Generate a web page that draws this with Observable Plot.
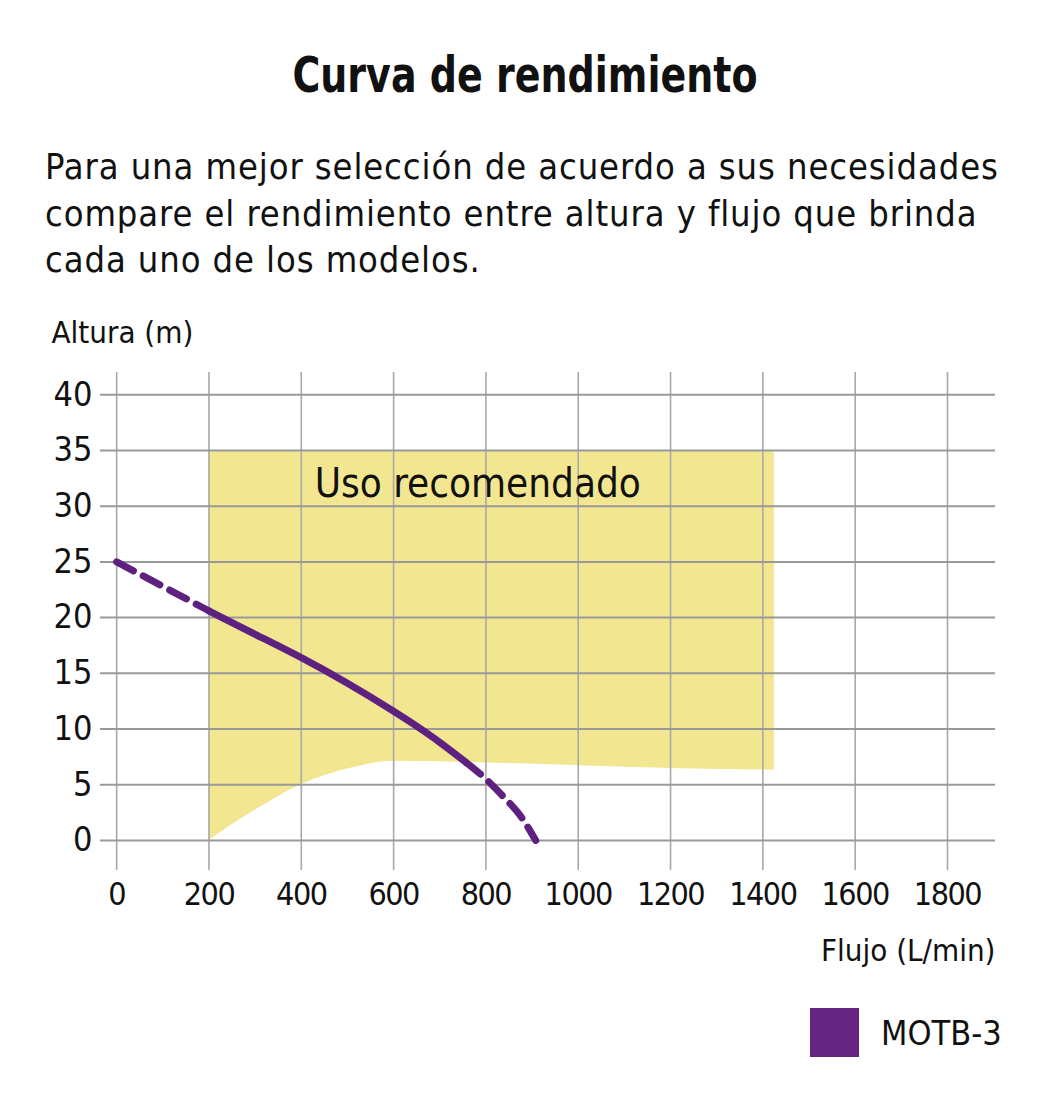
<!DOCTYPE html>
<html>
<head>
<meta charset="utf-8">
<script src="https://cdn.jsdelivr.net/npm/d3@7"></script>
<script src="https://cdn.jsdelivr.net/npm/@observablehq/plot@0.6"></script>
<style>
  html, body { margin: 0; padding: 0; background: #fff; }
  body { width: 1043px; height: 1108px; position: relative; overflow: hidden;
         font-family: "DejaVu Sans Condensed", sans-serif; color: #111; }
  #title { position: absolute; left: 0; width: 1050px; top: 50px; text-align: center;
           font-size: 50px; line-height: 50px; font-weight: bold; transform: scaleX(0.845); transform-origin: 525px 0; }
  #subtitle { position: absolute; left: 45px; top: 144px; font-size: 36px; line-height: 46.5px; letter-spacing: 0.9px; }
  #chart { position: absolute; left: 0; top: 290px; }
  #legend { position: absolute; left: 810px; top: 1008px; display: flex; align-items: center; }
  #legend .sw { width: 49px; height: 49px; background: #662483; }
  #legend .lb { margin-left: 22px; font-size: 34px; }
  #chart g[aria-label="x-axis tick label"] text { letter-spacing: -1.5px; }
</style>
</head>
<body>
<div id="title"></div>
<div id="subtitle"></div>
<div id="chart"></div>
<div id="legend"></div>
<script>
// ---- data ----
const titleText = "Curva de rendimiento";
const subtitleLines = [
  "Para una mejor selección de acuerdo a sus necesidades",
  "compare el rendimiento entre altura y flujo que brinda",
  "cada uno de los modelos."
];
const yLabel = "Altura (m)";
const xLabel = "Flujo (L/min)";
const xTicks = [0, 200, 400, 600, 800, 1000, 1200, 1400, 1600, 1800];
const yTicks = [0, 5, 10, 15, 20, 25, 30, 35, 40];

// Pump curve MOTB-3
const seriesName = "MOTB-3";
const pumpFlow = [0, 100, 200, 300, 400, 500, 600, 650, 700, 757, 800, 850, 880, 908];
const pumpHead = [25, 22.8, 20.6, 18.5, 16.4, 14.1, 11.6, 10.25, 8.8, 7.0, 5.5, 3.4, 1.9, 0];
const solidRange = [200, 757];

// Recommended-use zone
const zoneLabel = "Uso recomendado";
const zoneFlow = [200, 250, 300, 400, 500, 600, 800, 1000, 1200, 1425];
const zoneLow  = [0, 1.4, 2.7, 5.0, 6.4, 7.1, 6.95, 6.7, 6.45, 6.3];
const zoneHigh = 35;

// ---- build ----
document.getElementById("title").textContent = titleText;
document.getElementById("subtitle").innerHTML = subtitleLines.join("<br>");
document.getElementById("legend").innerHTML =
  `<div class="sw"></div><div class="lb">${seriesName}</div>`;

const pts = pumpFlow.map((x, i) => ({x, y: pumpHead[i]}));
const dashL = pts.filter(d => d.x <= solidRange[0]);
const solid = pts.filter(d => d.x >= solidRange[0] && d.x <= solidRange[1]);
const dashR = pts.filter(d => d.x >= solidRange[1]);
const zone = zoneFlow.map((x, i) => ({x, low: zoneLow[i], high: zoneHigh}));

const purple = "#5f2180";
const chart = Plot.plot({
  width: 1043,
  height: 700,
  marginLeft: 100,
  marginRight: 48,
  marginTop: 82,
  marginBottom: 120,
  style: {fontFamily: "'DejaVu Sans Condensed', sans-serif", fontSize: "33px", color: "#111", background: "transparent"},
  x: {domain: [-35, 1904]},
  y: {domain: [-2.7, 42]},
  marks: [
    Plot.areaY(zone, {x: "x", y1: "low", y2: "high", fill: "#f3e691", curve: "monotone-x"}),
    Plot.ruleX(xTicks, {stroke: "#a8a8a8", strokeWidth: 1.6}),
    Plot.ruleY(yTicks, {stroke: "#999", strokeWidth: 2}),
    Plot.axisX({ticks: xTicks, tickSize: 0, tickPadding: 12, tickFormat: d => String(d), label: null, fontSize: 32}),
    Plot.axisY({ticks: yTicks, tickSize: 0, tickPadding: 8, tickFormat: d => String(d), label: null, fontSize: 34}),
    Plot.text([zoneLabel], {x: 429, y: 30.8, text: d => d, textAnchor: "start", lineAnchor: "bottom", fontSize: 40, fill: "#111"}),
    Plot.line(dashL, {x: "x", y: "y", stroke: purple, strokeWidth: 7, strokeDasharray: "19,11", curve: "natural"}),
    Plot.line(solid, {x: "x", y: "y", stroke: purple, strokeWidth: 7, curve: "natural"}),
    Plot.line(dashR, {x: "x", y: "y", stroke: purple, strokeWidth: 7, strokeDasharray: "19,11", curve: "natural"}),
    Plot.text([yLabel], {frameAnchor: "top-left", text: d => d, dx: -49, dy: -30, textAnchor: "start", lineAnchor: "bottom", fontSize: 31, fill: "#111"}),
    Plot.text([xLabel], {frameAnchor: "bottom-right", text: d => d, dx: 0, dy: 90, textAnchor: "end", lineAnchor: "bottom", fontSize: 31, fill: "#111"})
  ]
});
document.getElementById("chart").appendChild(chart);
</script>
</body>
</html>
